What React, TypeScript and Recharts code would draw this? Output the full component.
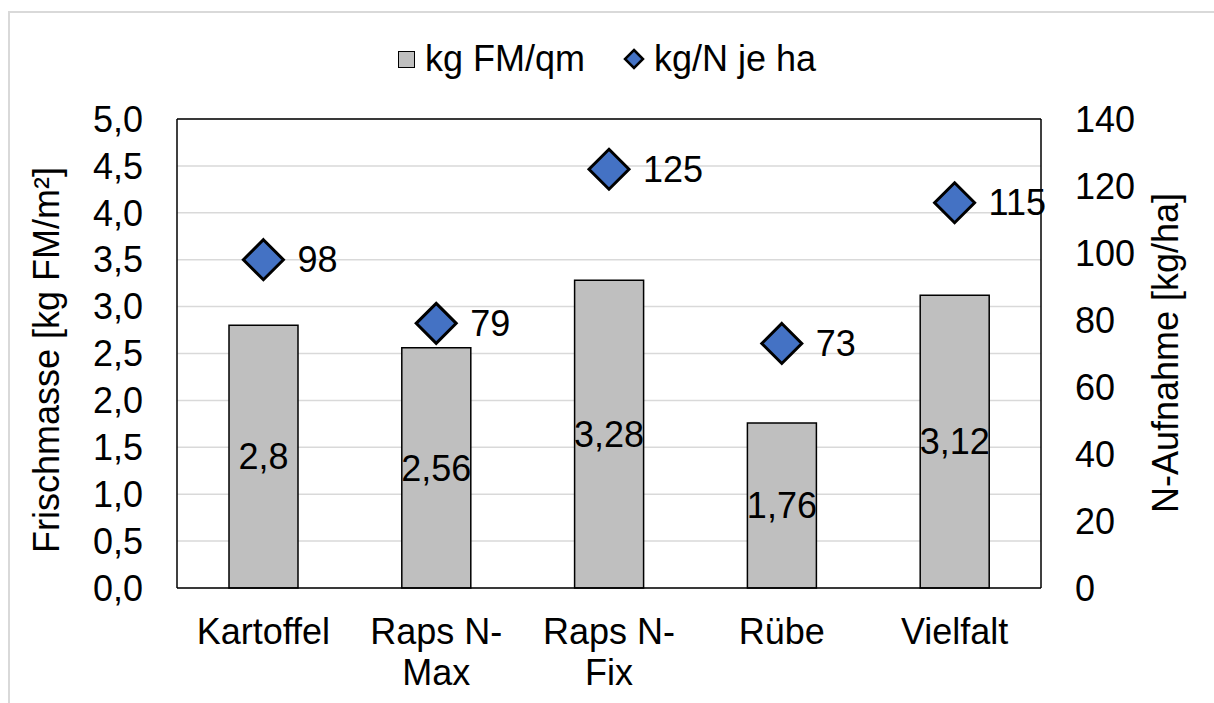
import React from "react";
import { ComposedChart, Bar, Line, XAxis, YAxis, CartesianGrid, LabelList, ReferenceLine } from "recharts";

const categories = ["Kartoffel", "Raps N-Max", "Raps N-Fix", "Rübe", "Vielfalt"];
const freshMass = [2.8, 2.56, 3.28, 1.76, 3.12];
const nUptake = [98, 79, 125, 73, 115];
const leftTicks = [0, 0.5, 1, 1.5, 2, 2.5, 3, 3.5, 4, 4.5, 5];
const rightTicks = [0, 20, 40, 60, 80, 100, 120, 140];

const data = categories.map((name, i) => ({ name, fm: freshMass[i], n: nUptake[i] }));

const FONT = "'Liberation Sans', Arial, sans-serif";
const comma = (v: number, digits: number) => v.toFixed(digits).replace(".", ",");

// split "Raps N-Max" after the hyphen like Excel does
function splitLabel(s: string): string[] {
  const m = s.match(/^(.*-)(.+)$/);
  return m ? [m[1], m[2]] : [s];
}

function CategoryTick(props: any) {
  const { x, y, payload } = props;
  const lines = splitLabel(String(payload.value));
  return (
    <text x={x} y={y} textAnchor="middle" fontSize={36} fontFamily={FONT} fill="#000">
      {lines.map((l, i) => (
        <tspan key={i} x={x} dy={i === 0 ? 56 : 41}>
          {l}
        </tspan>
      ))}
    </text>
  );
}

function Diamond(props: any) {
  const { cx, cy } = props;
  if (cx == null || cy == null) return null;
  const r = 20;
  return (
    <polygon
      points={`${cx},${cy - r} ${cx + r},${cy} ${cx},${cy + r} ${cx - r},${cy}`}
      fill="#4472C4"
      stroke="#000"
      strokeWidth={3}
      strokeLinejoin="miter"
    />
  );
}

function DiamondLabel(props: any) {
  const { x, y, value } = props;
  return (
    <text x={x + 34} y={y} dominantBaseline="central" fontSize={36} fontFamily={FONT} fill="#000">
      {value}
    </text>
  );
}

export default function App() {
  return (
    <div style={{ position: "absolute", left: 0, top: 0, width: 1214, height: 703, background: "#fff", fontFamily: FONT, overflow: "hidden" }}>
      <div style={{ position: "absolute", left: 8, top: 11, right: -10, bottom: -10, borderLeft: "2px solid #d9d9d9", borderTop: "2px solid #d9d9d9" }} />

      <ComposedChart
        width={1214}
        height={703}
        data={data}
        margin={{ top: 119, right: 0, bottom: 0, left: 0 }}
        barSize={69}
        style={{ position: "absolute", left: 0, top: 0 }}
      >
        <CartesianGrid yAxisId="left" vertical={false} stroke="#d9d9d9" strokeWidth={1.5} />
        <XAxis
          dataKey="name"
          height={115}
          tickLine={false}
          tickSize={0}
          tickMargin={0}
          axisLine={{ stroke: "#000", strokeWidth: 1.5 }}
          tick={<CategoryTick />}
          interval={0}
        />
        <YAxis
          yAxisId="left"
          width={177}
          domain={[0, 5]}
          ticks={leftTicks}
          tickFormatter={(v: number) => comma(v, 1)}
          tickLine={false}
          tickSize={0}
          tickMargin={34}
          axisLine={{ stroke: "#000", strokeWidth: 1.5 }}
          tick={{ fontSize: 36, fontFamily: FONT, fill: "#000" }}
          interval={0}
        />
        <YAxis
          yAxisId="right"
          orientation="right"
          width={173}
          domain={[0, 140]}
          ticks={rightTicks}
          tickLine={false}
          tickSize={0}
          tickMargin={34}
          axisLine={{ stroke: "#000", strokeWidth: 1.5 }}
          tick={{ fontSize: 36, fontFamily: FONT, fill: "#000", textAnchor: "start" }}
          interval={0}
        />
        <ReferenceLine yAxisId="left" y={5} stroke="#000" strokeWidth={1.5} ifOverflow="extendDomain" />
        <Bar yAxisId="left" dataKey="fm" fill="#bfbfbf" stroke="#000" strokeWidth={1.5} isAnimationActive={false}>
          <LabelList
            dataKey="fm"
            position="center"
            formatter={(v: any) => String(v).replace(".", ",")}
            style={{ fontSize: 36, fontFamily: FONT, fill: "#000" }}
          />
        </Bar>
        <Line
          yAxisId="right"
          dataKey="n"
          stroke="none"
          dot={<Diamond />}
          activeDot={false}
          legendType="diamond"
          isAnimationActive={false}
        >
          <LabelList dataKey="n" content={<DiamondLabel />} />
        </Line>
        <text
          transform="translate(59,360) rotate(-90)"
          textAnchor="middle"
          fontSize={36}
          fontFamily={FONT}
          fill="#000"
        >
          Frischmasse [kg FM/m²]
        </text>
        <text
          transform="translate(1178,353) rotate(-90)"
          textAnchor="middle"
          fontSize={36}
          fontFamily={FONT}
          fill="#000"
        >
          N-Aufnahme [kg/ha]
        </text>
      </ComposedChart>

      {/* legend */}
      <div style={{ position: "absolute", left: 0, top: 38, width: 1214, display: "flex", justifyContent: "center", alignItems: "center", fontSize: 36, color: "#000", whiteSpace: "nowrap" }}>
        <svg width={17} height={17} style={{ marginRight: 10 }}>
          <rect x={0.5} y={0.5} width={16} height={16} fill="#bfbfbf" stroke="#000" strokeWidth={1} />
        </svg>
        <span>kg FM/qm</span>
        <svg width={22} height={22} style={{ marginLeft: 38, marginRight: 9 }}>
          <polygon points="11,2 20,11 11,20 2,11" fill="#4472C4" stroke="#000" strokeWidth={2.5} />
        </svg>
        <span>kg/N je ha</span>
      </div>
    </div>
  );
}
